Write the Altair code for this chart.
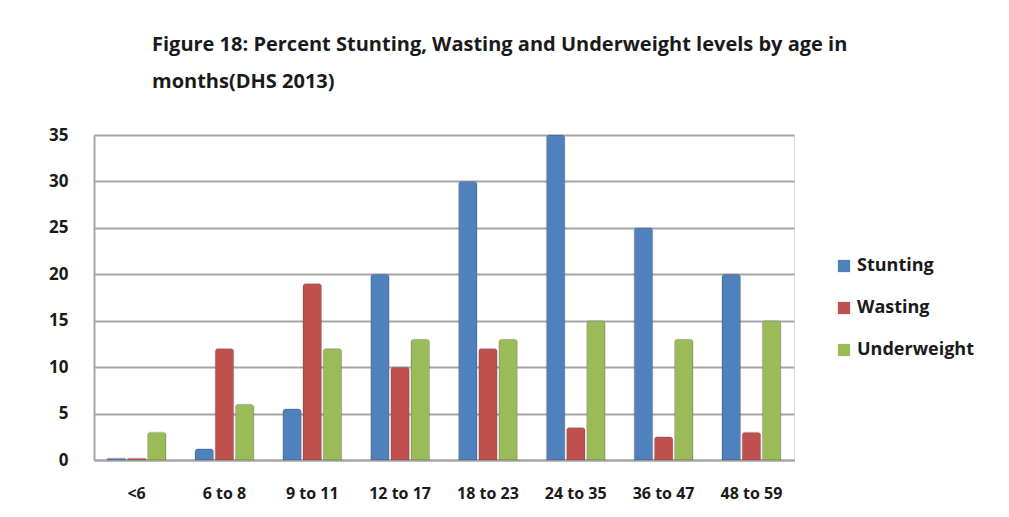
import altair as alt
import pandas as pd

ages = ["<6", "6 to 8", "9 to 11", "12 to 17", "18 to 23", "24 to 35", "36 to 47", "48 to 59"]
series = ["Stunting", "Wasting", "Underweight"]
stunting = [0.2, 1.2, 5.5, 20, 30, 35, 25, 20]
wasting = [0.2, 12, 19, 10, 12, 3.5, 2.5, 3]
underweight = [3, 6, 12, 13, 13, 15, 13, 15]
colors = ["#4F81BD", "#C0504D", "#9BBB59"]

rows = []
for i, a in enumerate(ages):
    for s, vals in zip(series, [stunting, wasting, underweight]):
        rows.append({"Age": a, "Indicator": s, "Value": vals[i]})
df = pd.DataFrame(rows)

font = "Open Sans"

chart = alt.Chart(df).mark_bar(
    stroke="#333333", strokeWidth=0.4, strokeOpacity=0.5,
    cornerRadiusTopLeft=3, cornerRadiusTopRight=3
).encode(
    x=alt.X("Age:N", sort=ages, title=None,
            scale=alt.Scale(paddingInner=0.33, paddingOuter=0.15),
            axis=alt.Axis(labelAngle=0, labelFont=font, labelFontSize=16, labelFontWeight="bold",
                          labelColor="#1a1a1a", labelPadding=25, ticks=False, domain=True,
                          domainColor="#A6A6A6", domainWidth=2)),
    xOffset=alt.XOffset("Indicator:N", sort=series, scale=alt.Scale(paddingInner=0.08)),
    y=alt.Y("Value:Q", title=None,
            scale=alt.Scale(domain=[0, 35], nice=False),
            axis=alt.Axis(values=[0, 5, 10, 15, 20, 25, 30, 35], labelFont=font, labelFontSize=17,
                          labelFontWeight="bold", labelColor="#1a1a1a", labelPadding=26,
                          ticks=False, grid=True, gridColor="#A6A6A6", gridWidth=2,
                          domainColor="#A6A6A6", domainWidth=2)),
    color=alt.Color("Indicator:N", sort=series,
                    scale=alt.Scale(domain=series, range=colors),
                    legend=alt.Legend(title=None, orient="none", legendX=741, legendY=122,
                                      symbolType="square",
                                      symbolSize=150, symbolStrokeWidth=0,
                                      labelFont=font, labelFontSize=18, labelFontWeight="bold",
                                      labelColor="#1a1a1a", rowPadding=24,
                                      padding=0))
).properties(
    width=700,
    height=325,
    title=alt.TitleParams(
        text=["Figure 18: Percent Stunting, Wasting and Underweight levels by age in",
              "months(DHS 2013)"],
        font=font, fontSize=20, fontWeight="bold", color="#1a1a1a",
        anchor="start", frame="group", dx=58, offset=34, lineHeight=37
    ),
    padding={"left": 40, "top": 27, "right": 10, "bottom": 10}
).configure_view(stroke=None).configure(background="white")

chart.save("out.html", embed_options={"renderer": "svg", "actions": False})
